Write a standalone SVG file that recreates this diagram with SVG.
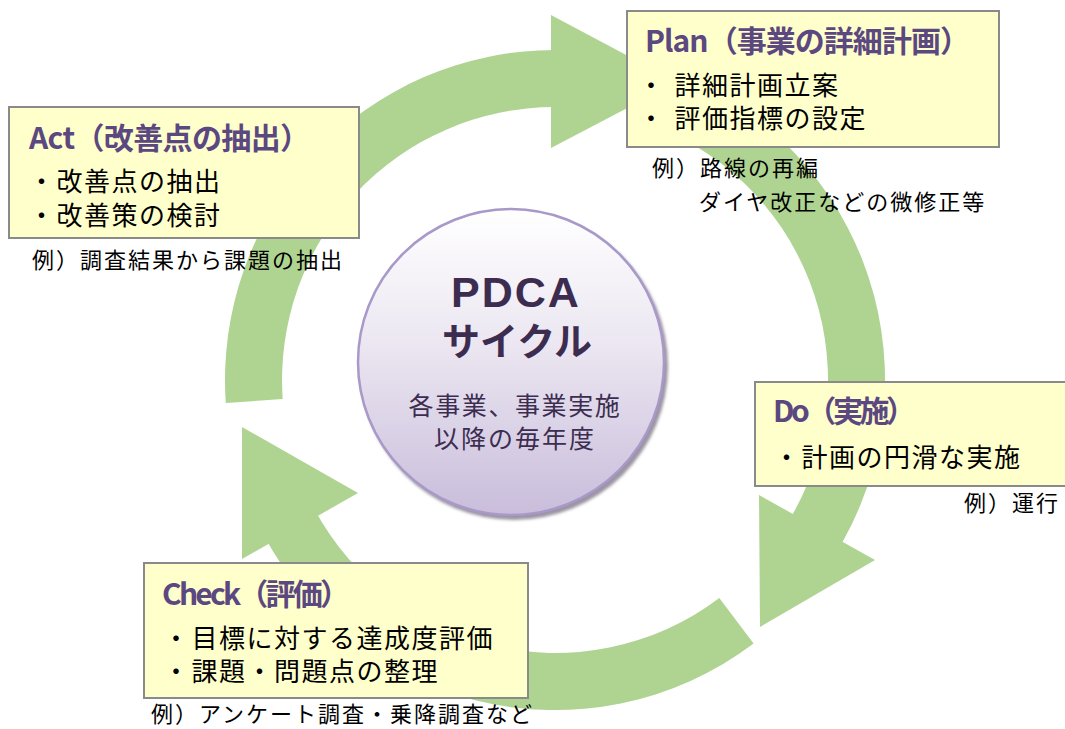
<svg xmlns="http://www.w3.org/2000/svg" width="1065" height="729" viewBox="0 0 1065 729">
  <defs>
    <linearGradient id="cg" x1="0" y1="0" x2="0" y2="1">
      <stop offset="0" stop-color="#ffffff"/>
      <stop offset="0.45" stop-color="#ebe6f1"/>
      <stop offset="1" stop-color="#c9bddb"/>
    </linearGradient>
    <filter id="blur" x="-10%" y="-10%" width="120%" height="120%">
      <feGaussianBlur stdDeviation="1.5"/>
    </filter>
    <style>
      .band { fill: #afd492; }
      .box { fill: #ffffcc; stroke: #8a8a8a; stroke-width: 2; }
      .title { font-family: "Noto Sans CJK JP", "Noto Sans", sans-serif; font-weight: bold; font-size: 30px; fill: #5c4880; }
      .body { font-family: "Noto Sans CJK JP", "Noto Sans", sans-serif; font-size: 26px; letter-spacing: 1.5px; fill: #000000; }
      .cap { font-family: "Noto Sans CJK JP", "Noto Sans", sans-serif; font-size: 22px; letter-spacing: 2px; fill: #000000; }
      .ctext { font-family: "Noto Sans CJK JP", "Noto Sans", sans-serif; fill: #3c2d50; text-anchor: middle; }
    </style>
  </defs>
  <rect x="0" y="0" width="1065" height="729" fill="#ffffff"/>

  <g id="connectors">
    <!-- Act -> Plan arc -->
    <path class="band" d="M 225.8 403 A 330 330 0 0 1 555 50 L 555 107 A 273 273 0 0 0 282.7 399 Z"/>
    <polygon class="band" points="551,15 677,82 551,148"/>
    <!-- Plan -> Do arc -->
    <path class="band" d="M 694.5 80.9 A 330 330 0 0 1 825.3 569.3 L 778.6 536.6 A 273 273 0 0 0 670.4 132.6 Z"/>
    <polygon class="band" points="759,495 875,560 760,627"/>
    <!-- Do -> Check -> Act arc -->
    <path class="band" d="M 753.6 643.6 A 330 330 0 0 1 255.9 519.5 L 307.6 495.4 A 273 273 0 0 0 719.3 598 Z"/>
    <polygon class="band" points="242,427 358,493 242,559"/>
  </g>

  <g id="node-center">
    <circle cx="514" cy="366" r="154" fill="#9b94a3" filter="url(#blur)"/>
    <circle cx="511" cy="362" r="153" fill="url(#cg)" stroke="#a899c9" stroke-width="2.5"/>
    <text class="ctext" x="516" y="307" style="font-family: 'Liberation Sans', Arial, sans-serif; font-weight: bold; font-size: 43px; letter-spacing: 2px;">PDCA</text>
    <text class="ctext" x="517" y="355" style="font-weight: bold; font-size: 38px;">サイクル</text>
    <text class="ctext" x="515" y="415" style="font-size: 25px; letter-spacing: 1.6px;">各事業、事業実施</text>
    <text class="ctext" x="515" y="448" style="font-size: 25px; letter-spacing: 2px;">以降の毎年度</text>
  </g>

  <g id="node-plan">
    <rect class="box" x="627" y="11" width="372" height="136"/>
    <text class="title" x="645" y="52" textLength="325">Plan（事業の詳細計画）</text>
    <text class="body" x="638" y="95">・<tspan dx="9">詳細計画立案</tspan></text>
    <text class="body" x="638" y="128">・<tspan dx="9">評価指標の設定</tspan></text>
    <text class="cap" x="652" y="176">例）路線の再編</text>
    <text class="cap" x="699" y="210">ダイヤ改正などの微修正等</text>
  </g>

  <g id="node-act">
    <rect class="box" x="9" y="107" width="350" height="131"/>
    <text class="title" x="29" y="149" textLength="281">Act（改善点の抽出）</text>
    <text class="body" x="28.5" y="191">・<tspan dx="0.5">改善点の抽出</tspan></text>
    <text class="body" x="28.5" y="225">・<tspan dx="0.5">改善策の検討</tspan></text>
    <text class="cap" x="32" y="268">例）調査結果から課題の抽出</text>
  </g>

  <g id="node-do">
    <rect class="box" x="755" y="382" width="320" height="104"/>
    <text class="title" x="773" y="422" textLength="143">Do（実施）</text>
    <text class="body" x="773.5" y="467">・<tspan dx="0.5">計画の円滑な実施</tspan></text>
    <text class="cap" x="964" y="511">例）運行</text>
  </g>

  <g id="node-check">
    <rect class="box" x="144" y="563" width="384" height="135"/>
    <text class="title" x="162" y="605" textLength="188">Check（評価）</text>
    <text class="body" x="163" y="648">・<tspan dx="1">目標に対する達成度評価</tspan></text>
    <text class="body" x="163" y="681">・<tspan dx="1">課題・問題点の整理</tspan></text>
    <text class="cap" x="151" y="722">例）アンケート調査・乗降調査など</text>
  </g>
</svg>
